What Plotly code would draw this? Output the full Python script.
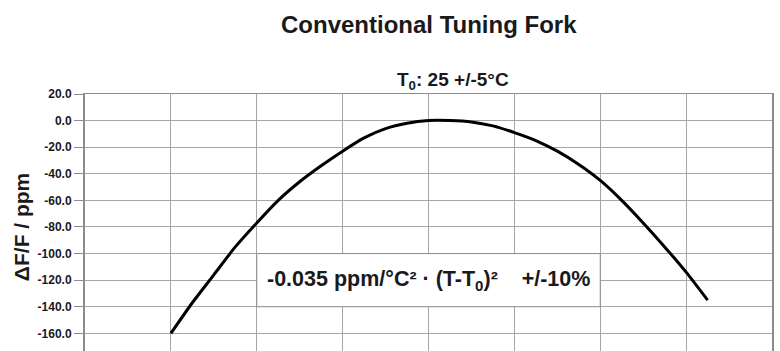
import plotly.graph_objects as go

temps = [-40, -35, -30, -25, -20, -15, -10, -5, 0, 5, 10, 15, 20, 25,
         30, 35, 40, 45, 50, 55, 60, 65, 70, 75, 80, 85]
dff = [-160, -137, -116, -95, -77, -60, -46, -34, -23, -13, -6, -2, 0, 0,
       -1, -4, -9, -15, -23, -33, -45, -60, -77, -95, -114, -135]
y_ticks = [20, 0, -20, -40, -60, -80, -100, -120, -140, -160]
y_labels = ["%.1f" % v for v in y_ticks]

title = "Conventional Tuning Fork"
subtitle = "T<sub>0</sub>: 25 +/-5°C"
formula = "-0.035 ppm/°C² · (T-T<sub>0</sub>)²\u00a0\u00a0\u00a0\u00a0+/-10%"
ytitle = "ΔF/F / ppm"

FONT = "Liberation Sans, Arial, sans-serif"
GRID = "#a6a6a6"

fig = go.Figure()
fig.add_trace(go.Scatter(x=temps, y=dff, mode="lines",
                         line=dict(color="black", width=3, shape="spline", smoothing=0.6),
                         showlegend=False, hoverinfo="skip"))

fig.update_layout(
    width=780, height=351,
    margin=dict(l=85, r=8, t=94, b=0, pad=0),
    paper_bgcolor="white", plot_bgcolor="white",
    font=dict(family=FONT, color="#1a1a1a"),
    xaxis=dict(range=[-60, 100], dtick=20, tick0=-60, showticklabels=False,
               showgrid=True, gridcolor=GRID, gridwidth=1, zeroline=False,
               showline=True, linecolor="#8c8c8c", linewidth=1, mirror=True, ticks=""),
    yaxis=dict(range=[-173.3, 20], tickvals=y_ticks, ticktext=["<b>%s</b>" % t for t in y_labels],
               showgrid=True, gridcolor=GRID, gridwidth=1, zeroline=False,
               showline=True, linecolor="#8c8c8c", linewidth=2, mirror=True,
               ticks="outside", ticklen=9, tickcolor="#8c8c8c", tickwidth=1,
               tickfont=dict(size=12, color="#1a1a1a")),
)

fig.add_shape(type="rect", xref="x", yref="y", x0=-20, x1=60, y0=-140, y1=-100,
              fillcolor="white", line=dict(color="#8c8c8c", width=1), layer="between")

fig.add_annotation(text="<b>%s</b>" % formula, xref="x", yref="y", x=20, y=-120,
                   showarrow=False, font=dict(size=21.5, color="#1a1a1a"))

fig.add_annotation(text="<b>%s</b>" % ytitle, xref="paper", yref="paper",
                   x=0, y=0.482, xshift=-64, xanchor="center", yanchor="middle",
                   textangle=-90, showarrow=False, font=dict(size=21, color="#1a1a1a"))

fig.add_annotation(text="<b>%s</b>" % title, xref="paper", yref="paper",
                   x=0.5, y=1, yshift=70, xanchor="center", yanchor="middle",
                   showarrow=False, font=dict(size=24, color="#1a1a1a"))
fig.add_annotation(text="<b>%s</b>" % subtitle, xref="paper", yref="paper",
                   x=0.536, y=1, yshift=13, xanchor="center", yanchor="middle",
                   showarrow=False, font=dict(size=19, color="#1a1a1a"))

fig.write_html("out.html")
